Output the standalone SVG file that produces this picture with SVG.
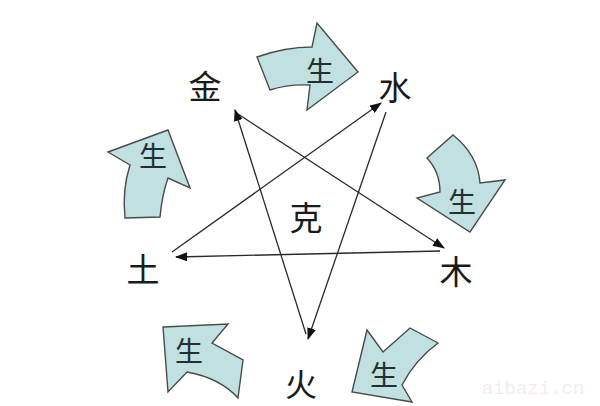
<svg xmlns="http://www.w3.org/2000/svg" width="600" height="406" viewBox="0 0 600 406">
<style>
.el{font-family:"Noto Sans CJK SC","Noto Sans CJK JP",sans-serif;font-size:33px;fill:#1a1a1a;text-anchor:middle;dominant-baseline:central}
.sh{font-family:"Noto Sans CJK SC","Noto Sans CJK JP",sans-serif;font-size:28px;fill:#24302f;text-anchor:middle;dominant-baseline:central}
.arr{fill:#c0e0e2;stroke:#4a4a4a;stroke-width:1.4;stroke-linejoin:miter}
.ln{stroke:#2a2a2a;stroke-width:1.3;fill:none;marker-end:url(#ah)}
</style>
<defs>
<marker id="ah" markerWidth="12" markerHeight="9" refX="11" refY="4.5" orient="auto" markerUnits="userSpaceOnUse">
<path d="M0,0 L12,4.5 L0,9 z" fill="#111"/>
</marker>
</defs>
<rect width="600" height="406" fill="#fff"/>
<g id="connectors">
<line class="ln" x1="238" y1="114" x2="444" y2="248"/>
<line class="ln" x1="440" y1="251" x2="176" y2="257"/>
<line class="ln" x1="172" y1="252" x2="381" y2="103"/>
<line class="ln" x1="386" y1="112" x2="308" y2="339"/>
<line class="ln" x1="306" y1="334" x2="235" y2="110"/>
</g>
<g id="sheng-top">
<path class="arr" d="M257,57 Q285,47 312,47 L317,23 L358,72 L307,110 L310,85 Q288,84 270,90 Z"/>
<text class="sh" x="320" y="70">生</text>
</g>
<g id="sheng-right">
<path class="arr" d="M427,158 L453,135 Q478,155 480,183 L505,180 L470,232 L417,198 L440,192 Q440,172 427,158 Z"/>
<text class="sh" x="462" y="201">生</text>
</g>
<g id="sheng-bottom-right">
<path class="arr" d="M367,330 L383,352 L410,328 L438,343 Q415,360 402,385 L412,402 L352,392 Z"/>
<text class="sh" x="384" y="374">生</text>
</g>
<g id="sheng-bottom-left">
<path class="arr" d="M163,327 L228,324 L212,343 L243,360 L238,398 Q220,378 187,372 L168,392 Z"/>
<text class="sh" x="189" y="350">生</text>
</g>
<g id="sheng-left">
<path class="arr" d="M125,218 L160,217 Q162,195 168,178 L190,188 L168,130 L108,152 L130,165 Q122,190 125,218 Z"/>
<text class="sh" x="153" y="155">生</text>
</g>
<g id="jin"><text class="el" x="205" y="85">金</text></g>
<g id="shui"><text class="el" x="395" y="86">水</text></g>
<g id="mu"><text class="el" x="456" y="270">木</text></g>
<g id="huo"><text class="el" x="301" y="382" style="font-size:32px">火</text></g>
<g id="tu"><text class="el" x="143" y="268">土</text></g>
<g id="ke"><text class="el" x="306" y="216">克</text></g>
<text x="533" y="394" font-family="Liberation Mono,monospace" font-size="19" fill="#f6ecec" text-anchor="middle">aibazi.cn</text>
</svg>
